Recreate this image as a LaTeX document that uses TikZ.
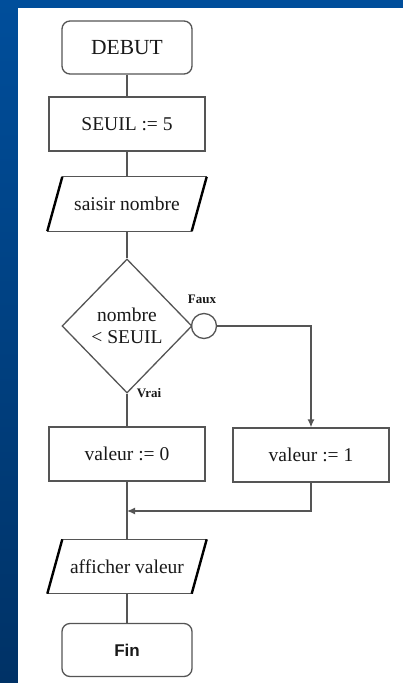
\documentclass[tikz,border=0pt]{standalone}
\usepackage{fontspec}
\setmainfont{Liberation Serif}
\newfontfamily\labsans{Liberation Sans}
\usetikzlibrary{shapes.geometric,arrows.meta,calc}
\definecolor{bgtop}{RGB}{0,78,155}
\definecolor{bgbot}{RGB}{0,50,102}
\definecolor{ln}{RGB}{85,85,85}
\definecolor{tx}{RGB}{25,25,25}
\begin{document}
\begin{tikzpicture}[x=1pt,y=-1pt,
  every node/.style={text=tx},
  term/.style={draw=ln, line width=1.3pt, rounded corners=8pt, minimum width=130pt, minimum height=53pt, inner sep=0pt},
  proc/.style={draw=ln, line width=1.3pt, minimum width=156pt, minimum height=54pt, inner sep=0pt},
  io/.style={minimum width=144pt, minimum height=54pt, inner sep=0pt},
  dec/.style={diamond, draw=ln, line width=1.3pt, minimum width=130pt, minimum height=134pt, inner sep=0pt, align=center},
  jn/.style={circle, draw=ln, line width=1.3pt, minimum size=25pt, inner sep=0pt},
  conn/.style={draw=ln, line width=1.3pt},
  arr/.style={conn, -{Latex[length=8pt,width=7pt]}},
  ioedge/.style={draw=ln, line width=1.3pt},
  ioslant/.style={draw=black, line width=2.4pt},
  lab/.style={font=\bfseries\fontsize{13}{14}\selectfont},
  big/.style={font=\fontsize{19.5}{23}\selectfont}
]
\useasboundingbox (0,0) rectangle (403,683);
% background
\fill[bgtop] (0,0) rectangle (403,8);
\shade[top color=bgtop, bottom color=bgbot] (0,0) rectangle (18,683);
\fill[white] (18,8) rectangle (403,683);

% nodes
\node[term, font=\fontsize{21.5}{24}\selectfont] (debut) at (127,47.5) {DEBUT};
\node[proc, big] (seuil) at (127,124) {SEUIL := 5};
\node[io, big] (saisir) at (127,204) {saisir nombre};
\node[dec, big] (test) at (127,326) {nombre\\[-1pt]< SEUIL};
\node[jn] (jn) at (204,326) {};
\node[proc, big] (v0) at (127,454) {valeur := 0};
\node[proc, big] (v1) at (311,455) {valeur := 1};
\node[io, big] (aff) at (127,566.5) {afficher valeur};
\node[term, font=\labsans\bfseries\fontsize{17}{19}\selectfont] (fin) at (127,650) {Fin};
\node[lab] (faux) at (202,299) {Faux};
\node[lab] (vrai) at (149,393) {Vrai};
\coordinate (merge) at (127,511);

% parallelograms
\foreach \n in {saisir,aff}{
  \draw[ioedge] ($(\n.north west)+(7.5,0)$) -- ($(\n.north east)+(7.5,0)$);
  \draw[ioedge] ($(\n.south west)+(-7.5,0)$) -- ($(\n.south east)+(-7.5,0)$);
  \draw[ioslant] ($(\n.north west)+(7.5,0)$) -- ($(\n.south west)+(-7.5,0)$);
  \draw[ioslant] ($(\n.north east)+(7.5,0)$) -- ($(\n.south east)+(-7.5,0)$);
}

% connectors
\draw[conn] (debut) -- (seuil);
\draw[conn] (seuil) -- (saisir);
\draw[conn] (saisir) -- (test);
\draw[conn] (test) -- (v0);
\draw[arr] (jn.east) -| (v1.north);
\draw[conn] (v0) -- (aff);
\draw[arr] (v1.south) |- (merge);
\draw[conn] (aff) -- (fin);
\end{tikzpicture}
\end{document}
